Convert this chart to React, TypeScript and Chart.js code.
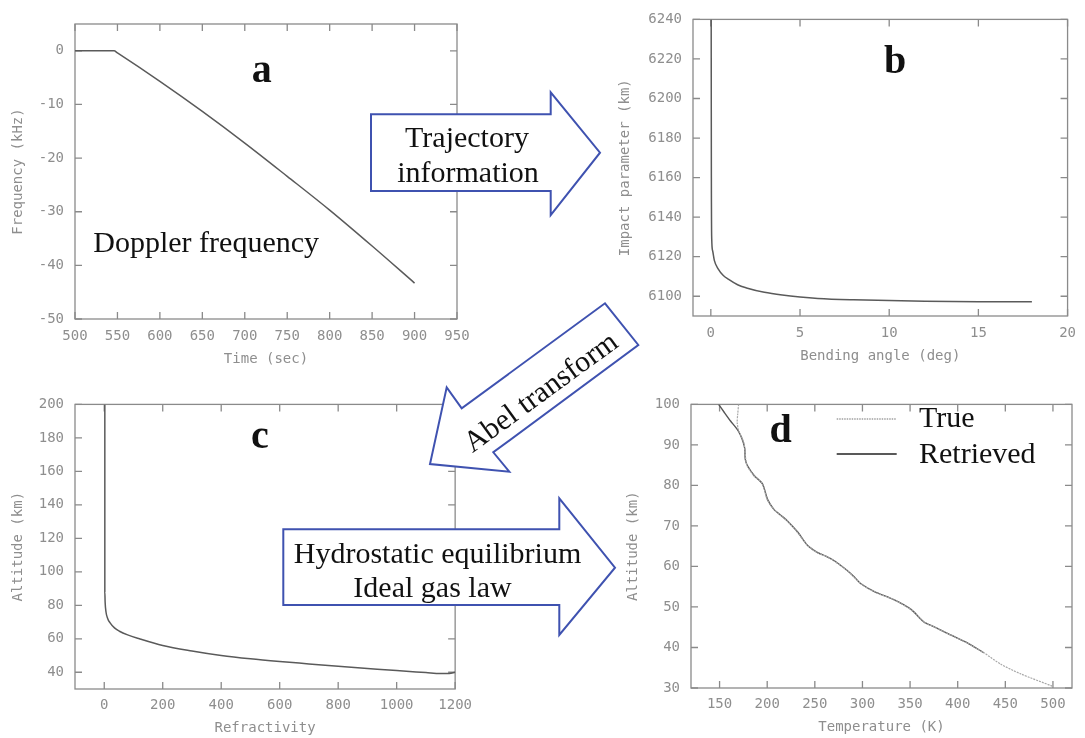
import React, { useEffect, useRef } from 'react';
import { Chart, registerables } from 'chart.js';

Chart.register(...registerables);

// ---------- Panel a: Doppler frequency ----------
const timeSec = [500, 546, 550, 600, 650, 700, 750, 800, 850, 900];
const dopplerKHz = [0, 0, -0.4, -5.7, -11.3, -17.2, -23.4, -29.7, -36.4, -43.3];
const aXTicks = [500, 550, 600, 650, 700, 750, 800, 850, 900, 950];
const aYTicks = [-50, -40, -30, -20, -10, 0];

// ---------- Panel b: bending angle vs impact parameter ----------
const bendingDeg = [0.02, 0.03, 0.05, 0.1, 0.2, 0.4, 0.7, 1, 1.5, 2, 3, 4, 5, 6, 8, 10, 12, 15, 18];
const impactKm = [6240, 6160, 6129, 6123, 6118, 6114, 6110.5, 6108.5, 6105.8, 6104.2, 6102, 6100.6, 6099.6, 6098.9, 6098.2, 6097.8, 6097.4, 6097.2, 6097.2];
const bXTicks = [0, 5, 10, 15, 20];
const bYTicks = [6100, 6120, 6140, 6160, 6180, 6200, 6220, 6240];

// ---------- Panel c: refractivity vs altitude ----------
const refractivity = [2, 2, 3, 6, 12, 20, 35, 52, 80, 120, 200, 300, 400, 500, 600, 700, 800, 900, 1000, 1100, 1150, 1180, 1200];
const refrAltKm = [200, 88, 82, 76, 72, 69.5, 66.5, 64.5, 62.3, 60, 56, 52.7, 50, 48, 46.4, 45, 43.6, 42.3, 41, 39.8, 39.2, 39.2, 40];
const cXTicks = [0, 200, 400, 600, 800, 1000, 1200];
const cYTicks = [40, 60, 80, 100, 120, 140, 160, 180, 200];

// ---------- Panel d: temperature profiles ----------
const trueTempK = [170, 169, 168.5, 170, 173, 175.5, 176.5, 177.5, 179, 186, 195, 200, 207, 214, 221, 231.5, 242, 252.5, 262, 270, 284, 291, 298, 312, 333, 350.5, 364.5, 375, 392.5, 410, 427.5, 445, 466, 500];
const trueAltKm = [100, 97.5, 95.5, 93.5, 92, 90.5, 89, 86.4, 84.8, 82.4, 80.4, 76.5, 74.1, 72.6, 71.3, 68.5, 65.3, 63.4, 62.5, 61.4, 59, 57.4, 55.8, 53.8, 51.8, 49.4, 46.3, 45.1, 43.1, 41.1, 38.7, 35.9, 33.5, 30.4];
const retrTempK = [149, 155, 161.5, 168, 172, 175, 176.5, 177, 179.5, 186.5, 195, 200.5, 207, 214.5, 221, 232, 242, 253, 262, 270.5, 284, 291.5, 298, 312.5, 333, 351, 364.5, 375.5, 392.5, 410.5, 427.5];
const retrAltKm = [100, 98, 95.9, 94, 92.4, 90.5, 89, 86.4, 84.8, 82.4, 80.4, 76.5, 74.1, 72.6, 71.3, 68.5, 65.3, 63.4, 62.5, 61.4, 59, 57.4, 55.8, 53.8, 51.8, 49.4, 46.3, 45.1, 43.1, 41.1, 38.7];
const dXTicks = [150, 200, 250, 300, 350, 400, 450, 500];
const dYTicks = [30, 40, 50, 60, 70, 80, 90, 100];

const GRAY_TXT = '#8e8e8e';
const FRAME = '#8a8a8a';
const MONO = 'DejaVu Sans Mono, Liberation Mono, monospace';
const SERIF = 'Liberation Serif, Times New Roman, serif';
const BLUE = '#3f52b0';
const TICK_LEN = 7;

const pts = (xs: number[], ys: number[]) => xs.map((x, i) => ({ x, y: ys[i] }));

const framePlugin = {
  id: 'frameTicks',
  beforeDatasetsDraw(chart: any) {
    const { ctx, chartArea, scales } = chart;
    const { left, right, top, bottom } = chartArea;
    ctx.save();
    ctx.strokeStyle = FRAME;
    ctx.lineWidth = 1.3;
    ctx.strokeRect(left, top, right - left, bottom - top);
    ctx.beginPath();
    for (const t of scales.x.ticks) {
      const px = scales.x.getPixelForValue(t.value);
      ctx.moveTo(px, bottom);
      ctx.lineTo(px, bottom - TICK_LEN);
      ctx.moveTo(px, top);
      ctx.lineTo(px, top + TICK_LEN);
    }
    for (const t of scales.y.ticks) {
      const py = scales.y.getPixelForValue(t.value);
      ctx.moveTo(left, py);
      ctx.lineTo(left + TICK_LEN, py);
      ctx.moveTo(right, py);
      ctx.lineTo(right - TICK_LEN, py);
    }
    ctx.stroke();
    ctx.restore();
  },
};

type PanelProps = {
  left: number;
  top: number;
  width: number;
  height: number;
  yAxisWidth: number;
  xAxisHeight: number;
  padTop: number;
  padRight: number;
  xMin: number;
  xMax: number;
  yMin: number;
  yMax: number;
  xTicks: number[];
  yTicks: number[];
  xTitle: string;
  yTitle: string;
  xTitlePad: number;
  yTitlePad: number;
  xTickPad: number;
  yTickPad: number;
  datasets: any[];
};

function Panel(p: PanelProps) {
  const ref = useRef<HTMLCanvasElement | null>(null);
  useEffect(() => {
    if (!ref.current) return;
    const tickFont = { family: MONO, size: 14 };
    const titleFont = { family: MONO, size: 14 };
    const chart = new Chart(ref.current, {
      type: 'line',
      data: { datasets: p.datasets },
      options: {
        animation: false,
        responsive: false,
        devicePixelRatio: 1,
        layout: { padding: { top: p.padTop, right: p.padRight, left: 0, bottom: 0 } },
        plugins: { legend: { display: false }, tooltip: { enabled: false } },
        elements: { point: { radius: 0 } },
        scales: {
          x: {
            type: 'linear',
            min: p.xMin,
            max: p.xMax,
            grid: { display: false, drawTicks: false, tickLength: 0 },
            border: { display: false },
            ticks: {
              color: GRAY_TXT,
              font: tickFont,
              padding: p.xTickPad,
              maxRotation: 0,
              autoSkip: false,
              callback: (v: any) => String(v),
            },
            afterBuildTicks: (s: any) => {
              s.ticks = p.xTicks.map((v) => ({ value: v }));
            },
            afterFit: (s: any) => {
              s.height = p.xAxisHeight;
            },
            title: {
              display: true,
              text: p.xTitle,
              color: GRAY_TXT,
              font: titleFont,
              padding: { top: 0, bottom: p.xTitlePad },
            },
          },
          y: {
            type: 'linear',
            min: p.yMin,
            max: p.yMax,
            grid: { display: false, drawTicks: false, tickLength: 0 },
            border: { display: false },
            ticks: {
              color: GRAY_TXT,
              font: tickFont,
              padding: p.yTickPad,
              autoSkip: false,
              callback: (v: any) => String(v),
            },
            afterBuildTicks: (s: any) => {
              s.ticks = p.yTicks.map((v) => ({ value: v }));
            },
            afterFit: (s: any) => {
              s.width = p.yAxisWidth;
            },
            title: {
              display: true,
              text: p.yTitle,
              color: GRAY_TXT,
              font: titleFont,
              padding: { top: p.yTitlePad, bottom: 0 },
            },
          },
        },
      } as any,
      plugins: [framePlugin],
    });
    return () => chart.destroy();
  }, []);
  return (
    <canvas
      ref={ref}
      width={p.width}
      height={p.height}
      style={{ position: 'absolute', left: p.left, top: p.top, width: p.width, height: p.height }}
    />
  );
}

const lineDs = (data: any[], extra: any = {}) => ({
  data,
  borderColor: '#5a5a5a',
  borderWidth: 1.5,
  pointRadius: 0,
  fill: false,
  tension: 0,
  ...extra,
});

export default function App() {
  const serifText = { fontFamily: SERIF, fill: '#111' } as any;
  return (
    <div style={{ position: 'absolute', left: 0, top: 0, width: 1085, height: 738, background: '#fff', overflow: 'hidden' }}>
      <Panel
        left={0} top={0} width={480} height={375}
        yAxisWidth={75} xAxisHeight={56} padTop={24} padRight={23}
        xMin={500} xMax={950} yMin={-50} yMax={5}
        xTicks={aXTicks} yTicks={aYTicks}
        xTitle="Time (sec)" yTitle="Frequency (kHz)"
        xTitlePad={7} yTitlePad={10} xTickPad={9} yTickPad={11}
        datasets={[lineDs(pts(timeSec, dopplerKHz), { cubicInterpolationMode: 'monotone' })]}
      />
      <Panel
        left={610} top={0} width={475} height={375}
        yAxisWidth={83} xAxisHeight={59} padTop={15} padRight={13}
        xMin={-1} xMax={20} yMin={6090} yMax={6240}
        xTicks={bXTicks} yTicks={bYTicks}
        xTitle="Bending angle (deg)" yTitle="Impact parameter (km)"
        xTitlePad={10} yTitlePad={7} xTickPad={9} yTickPad={11}
        datasets={[lineDs(pts(bendingDeg, impactKm), { cubicInterpolationMode: 'monotone' })]}
      />
      <Panel
        left={0} top={385} width={480} height={353}
        yAxisWidth={75} xAxisHeight={49} padTop={10} padRight={23}
        xMin={-100} xMax={1200} yMin={30} yMax={200}
        xTicks={cXTicks} yTicks={cYTicks}
        xTitle="Refractivity" yTitle="Altitude (km)"
        xTitlePad={1} yTitlePad={10} xTickPad={8} yTickPad={11}
        datasets={[lineDs(pts(refractivity, refrAltKm), { cubicInterpolationMode: 'monotone' })]}
      />
      <Panel
        left={610} top={385} width={475} height={353}
        yAxisWidth={81} xAxisHeight={50} padTop={10} padRight={13}
        xMin={120} xMax={520} yMin={30} yMax={100}
        xTicks={dXTicks} yTicks={dYTicks}
        xTitle="Temperature (K)" yTitle="Altitude (km)"
        xTitlePad={2} yTitlePad={15} xTickPad={8} yTickPad={11}
        datasets={[
          lineDs(pts(trueTempK, trueAltKm), { borderColor: '#a8a8a8', borderWidth: 1.2, borderDash: [2, 1], tension: 0.25 }),
          lineDs(pts(retrTempK, retrAltKm), { borderColor: '#555', borderWidth: 1.4, tension: 0.25 }),
        ]}
      />
      <svg
        width={1085}
        height={738}
        style={{ position: 'absolute', left: 0, top: 0, pointerEvents: 'none' }}
      >
        {/* panel letters */}
        <text x={261.7} y={81.7} textAnchor="middle" fontSize={40} fontWeight="bold" {...serifText}>a</text>
        <text x={895} y={73.3} textAnchor="middle" fontSize={40} fontWeight="bold" {...serifText}>b</text>
        <text x={260} y={448.3} textAnchor="middle" fontSize={40} fontWeight="bold" {...serifText}>c</text>
        <text x={780.7} y={441.7} textAnchor="middle" fontSize={40} fontWeight="bold" {...serifText}>d</text>
        <text x={93.3} y={252} fontSize={30} {...serifText}>Doppler frequency</text>

        {/* legend panel d */}
        <line x1={836.7} y1={419} x2={896.7} y2={419} stroke="#a0a0a0" strokeWidth={1.3} strokeDasharray="1.5 1" />
        <line x1={836.7} y1={454} x2={896.7} y2={454} stroke="#222" strokeWidth={1.6} />
        <text x={919} y={426.7} fontSize={30} {...serifText}>True</text>
        <text x={919} y={463.3} fontSize={30} {...serifText}>Retrieved</text>

        {/* arrow: trajectory information */}
        <polygon
          points="371,114.3 550.7,114.3 550.7,92.3 600,152.7 550.7,215 550.7,191 371,191"
          fill="#fff" stroke={BLUE} strokeWidth={2} strokeLinejoin="miter"
        />
        <text x={467} y={146.7} textAnchor="middle" fontSize={30} {...serifText}>Trajectory</text>
        <text x={468} y={181.7} textAnchor="middle" fontSize={30} {...serifText}>information</text>

        {/* arrow: Abel transform */}
        <polygon
          points="605,303.3 638.3,345 493.3,452.3 509.3,471.7 430,464 446.7,387.3 461.7,408.3"
          fill="#fff" stroke={BLUE} strokeWidth={2} strokeLinejoin="miter"
        />
        <text
          x={540} y={391} textAnchor="middle" dominantBaseline="central" fontSize={30}
          transform="rotate(-36.2 540 391)" {...serifText}
        >Abel transform</text>

        {/* arrow: hydrostatic equilibrium */}
        <polygon
          points="283.3,529.3 559.3,529.3 559.3,498.3 615,567.7 559.3,635 559.3,605 283.3,605"
          fill="#fff" stroke={BLUE} strokeWidth={2} strokeLinejoin="miter"
        />
        <text x={437.5} y={563.3} textAnchor="middle" fontSize={30} {...serifText}>Hydrostatic equilibrium</text>
        <text x={432.5} y={597} textAnchor="middle" fontSize={30} {...serifText}>Ideal gas law</text>
      </svg>
    </div>
  );
}
